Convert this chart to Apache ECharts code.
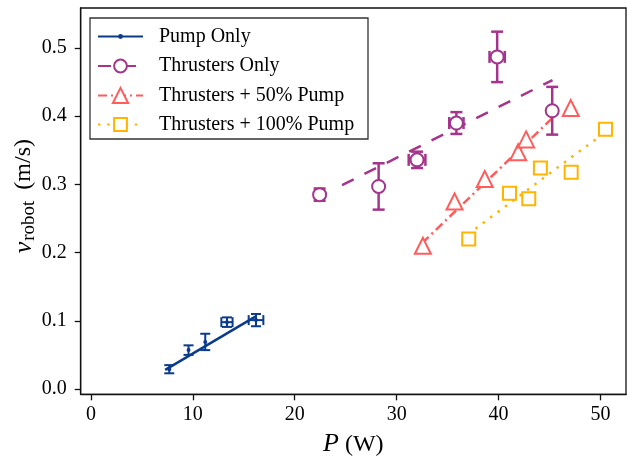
<!DOCTYPE html>
<html>
<head>
<meta charset="utf-8">
<script src="https://cdn.jsdelivr.net/npm/echarts@6/dist/echarts.min.js"></script>
<style>
html,body{margin:0;padding:0;background:#fff;}
#chart{width:627px;height:462px;}
</style>
</head>
<body>
<div id="chart"></div>
<script>
// ---- Data ----
const seriesNames = ['Pump Only', 'Thrusters Only', 'Thrusters + 50% Pump', 'Thrusters + 100% Pump'];

const pumpX    = [7.69, 9.58, 11.22, 13.35, 16.2];
const pumpY    = [0.029, 0.057, 0.069, 0.098, 0.101];
const pumpXErr = [0, 0, 0, 0.55, 0.72];
const pumpYErr = [0.006, 0.007, 0.012, 0.007, 0.009];
const pumpFitX = [7.29, 16.13];
const pumpFitY = [0.028, 0.106];

const thrX    = [22.44, 28.23, 32.0, 35.86, 39.86, 45.26];
const thrY    = [0.285, 0.297, 0.336, 0.390, 0.487, 0.408];
const thrXErr = [0, 0, 0.82, 0.7, 0.75, 0];
const thrYErr = [0.009, 0.034, 0.012, 0.016, 0.037, 0.035];
const thrFitX = [24.64, 45.29];
const thrFitY = [0.299, 0.453];

const t50X = [32.57, 35.68, 38.64, 41.92, 42.7, 47.08];
const t50Y = [0.210, 0.275, 0.308, 0.347, 0.366, 0.412];
const t50FitX = [32.5, 45.88];
const t50FitY = [0.214, 0.406];

const t100X = [37.07, 41.07, 42.96, 44.1, 47.12, 50.49];
const t100Y = [0.220, 0.287, 0.279, 0.324, 0.318, 0.381];
const t100FitX = [37.0, 50.5];
const t100FitY = [0.227, 0.377];

const xTicks = [0, 10, 20, 30, 40, 50];
const yTicks = [0, 0.1, 0.2, 0.3, 0.4, 0.5];

// ---- Styles ----
const C_NAVY = '#0b3b8b';
const C_PURPLE = '#a4358c';
const C_RED = '#ff5c5c';
const C_AMBER = '#ffb400';
const FONT = '"Liberation Serif", "DejaVu Serif", serif';

const zip = (a, b) => a.map((v, i) => [v, b[i]]);
const zip4 = (a, b, c, d) => a.map((v, i) => [v, b[i], c[i], d[i]]);

function errRenderer(color, lw, cap) {
  return function (params, api) {
    const x = api.value(0), y = api.value(1), ex = api.value(2), ey = api.value(3);
    const st = { stroke: color, lineWidth: lw };
    const ch = [];
    const ln = (p, q) => ({ type: 'line', shape: { x1: p[0], y1: p[1], x2: q[0], y2: q[1] }, style: st });
    if (ey > 0) {
      const a = api.coord([x, y - ey]), b = api.coord([x, y + ey]);
      ch.push(ln(a, b), ln([a[0] - cap, a[1]], [a[0] + cap, a[1]]), ln([b[0] - cap, b[1]], [b[0] + cap, b[1]]));
    }
    if (ex > 0) {
      const a = api.coord([x - ex, y]), b = api.coord([x + ex, y]);
      ch.push(ln(a, b), ln([a[0], a[1] - cap], [a[0], a[1] + cap]), ln([b[0], b[1] - cap], [b[0], b[1] + cap]));
    }
    return { type: 'group', children: ch };
  };
}

function legendAt(name, top, itemHeight) {
  return {
    data: [name], left: 97, top: top, orient: 'vertical', padding: 0,
    itemWidth: 45, itemHeight: itemHeight, selectedMode: false, z: 60,
    textStyle: { fontFamily: FONT, fontSize: 20, color: '#000', lineHeight: 24, padding: [0, 0, 0, 11] }
  };
}

const chart = echarts.init(document.getElementById('chart'), null, { renderer: 'canvas' });

const option = {
  animation: false,
  backgroundColor: '#fff',
  grid: { left: 80.7, right: 1, top: 8, bottom: 67.7, show: true, borderColor: '#111', borderWidth: 1.3,
          containLabel: false, outerBoundsMode: 'none' },
  graphic: [{
    type: 'rect', shape: { x: 90, y: 18, width: 278, height: 121 },
    style: { fill: '#fff', stroke: '#333', lineWidth: 1.3 }, z: 50
  }],
  legend: [
    legendAt(seriesNames[0], 24.5, 6),
    legendAt(seriesNames[1], 54, 16),
    legendAt(seriesNames[2], 83.5, 19),
    legendAt(seriesNames[3], 112.5, 16)
  ],
  xAxis: {
    type: 'value', min: -1, max: 52.5,
    name: '{i|P} (W)', nameLocation: 'middle', nameGap: 37, nameMoveOverlap: false,
    nameTextStyle: { fontFamily: FONT, fontSize: 24, color: '#000', rich: { i: { fontFamily: FONT, fontStyle: 'italic', fontSize: 26, color: '#000' } } },
    axisLine: { show: true, onZero: false, lineStyle: { color: '#111', width: 1.3 } },
    axisTick: { show: true, length: 6, lineStyle: { color: '#111', width: 1.3 }, customValues: xTicks },
    axisLabel: { fontFamily: FONT, fontSize: 20, color: '#000', margin: 10, customValues: xTicks, formatter: v => String(v) },
    splitLine: { show: false }
  },
  yAxis: {
    type: 'value', min: -0.0078, max: 0.5587,
    name: '{i|v}{s|robot} (m/s)', nameLocation: 'middle', nameGap: 42, nameRotate: 90, nameMoveOverlap: false,
    nameTextStyle: { fontFamily: FONT, fontSize: 24, color: '#000', padding: [0, 0, 0, 10],
      rich: { i: { fontFamily: FONT, fontStyle: 'italic', fontSize: 26, color: '#000' },
              s: { fontFamily: FONT, fontSize: 19, color: '#000', padding: [11, 5, 0, 1] } } },
    axisLine: { show: true, onZero: false, lineStyle: { color: '#111', width: 1.3 } },
    axisTick: { show: true, length: 6, lineStyle: { color: '#111', width: 1.3 }, customValues: yTicks },
    axisLabel: { fontFamily: FONT, fontSize: 20, color: '#000', margin: 14, customValues: yTicks, formatter: v => v.toFixed(1) },
    splitLine: { show: false }
  },
  series: [
    // fit lines (carry legend entries)
    { name: seriesNames[0], type: 'line', data: zip(pumpFitX, pumpFitY), symbol: 'circle', showSymbol: false, z: 2,
      color: C_NAVY, lineStyle: { color: C_NAVY, width: 2.5 }, itemStyle: { color: C_NAVY } },
    { name: seriesNames[1], type: 'line', data: zip(thrFitX, thrFitY), symbol: 'emptyCircle', showSymbol: false, z: 2,
      color: C_PURPLE, lineStyle: { color: C_PURPLE, width: 2.5, type: [13, 12] }, itemStyle: { color: C_PURPLE } },
    { name: seriesNames[2], type: 'line', data: zip(t50FitX, t50FitY), symbol: 'emptyTriangle', showSymbol: false, z: 2,
      color: C_RED, lineStyle: { color: C_RED, width: 2.5, type: [9, 4, 2, 4] }, itemStyle: { color: C_RED } },
    { name: seriesNames[3], type: 'line', data: zip(t100FitX, t100FitY), symbol: 'emptyRect', showSymbol: false, z: 2,
      color: C_AMBER, lineStyle: { color: C_AMBER, width: 2.5, type: [2.5, 6.7] }, itemStyle: { color: C_AMBER } },
    // error bars
    { name: 'pumpErr', type: 'custom', data: zip4(pumpX, pumpY, pumpXErr, pumpYErr), encode: { x: 0, y: 1 },
      renderItem: errRenderer(C_NAVY, 2, 5), z: 3, silent: true },
    { name: 'thrErr', type: 'custom', data: zip4(thrX, thrY, thrXErr, thrYErr), encode: { x: 0, y: 1 },
      renderItem: errRenderer(C_PURPLE, 2.5, 6), z: 3, silent: true },
    // markers
    { name: 'pumpPts', type: 'scatter', data: zip(pumpX, pumpY), symbol: 'circle', symbolSize: 4, z: 4,
      itemStyle: { color: C_NAVY, opacity: 1 } },
    { name: 'thrPts', type: 'scatter', data: zip(thrX, thrY), symbol: 'circle', symbolSize: 13, z: 4,
      itemStyle: { color: '#fff', borderColor: C_PURPLE, borderWidth: 2, opacity: 1 } },
    { name: 't50Pts', type: 'scatter', data: zip(t50X, t50Y), symbol: 'triangle', symbolSize: 16, z: 4,
      itemStyle: { color: '#fff', borderColor: C_RED, borderWidth: 2, opacity: 1 } },
    { name: 't100Pts', type: 'scatter', data: zip(t100X, t100Y), symbol: 'rect', symbolSize: 13, z: 4,
      itemStyle: { color: '#fff', borderColor: C_AMBER, borderWidth: 2, opacity: 1 } }
  ]
};
chart.setOption(option);
</script>
</body>
</html>
